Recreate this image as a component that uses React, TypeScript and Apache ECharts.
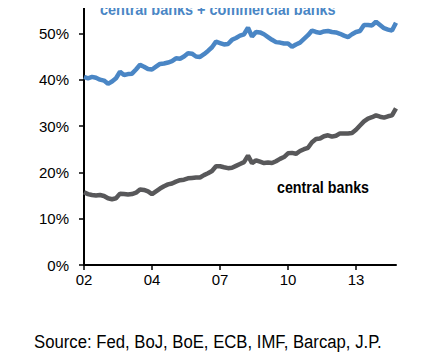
import React, { useEffect, useRef } from "react";
import * as echarts from "echarts";

// Bi-monthly observations, Jan 2002 .. Dec 2014 (79 points)
const startYear = 2002;
const stepMonths = 2;

const centralPlusCommercial = [
  40.6, 40.3, 40.6, 40.4, 40.0, 39.8, 39.1, 39.6, 40.3, 41.7,
  41.0, 41.2, 41.3, 42.2, 43.2, 42.8, 42.3, 42.2, 42.8, 43.4,
  43.5, 43.7, 44.0, 44.6, 44.5, 45.0, 45.7, 45.6, 45.0, 44.9,
  45.5, 46.2, 47.0, 48.2, 47.9, 47.6, 47.7, 48.6, 49.0, 49.5,
  49.8, 51.2, 49.3, 50.3, 50.2, 49.8, 49.2, 48.6, 48.1, 48.0,
  47.8, 47.8, 47.1, 47.6, 48.0, 48.8, 49.6, 50.6, 50.3, 50.1,
  50.4, 50.5, 50.3, 50.2, 49.9, 49.5, 49.2, 49.8, 50.3, 50.5,
  51.8, 51.8, 51.7, 52.5, 51.8, 51.1, 50.8, 50.6, 52.3,
];

const centralBanks = [
  15.7, 15.3, 15.1, 15.0, 15.1, 14.9, 14.4, 14.2, 14.4, 15.4,
  15.3, 15.2, 15.3, 15.6, 16.3, 16.2, 15.9, 15.3, 15.9, 16.5,
  17.0, 17.4, 17.6, 18.0, 18.3, 18.4, 18.7, 18.8, 18.9, 18.9,
  19.4, 19.8, 20.3, 21.3, 21.3, 21.1, 20.9, 21.0, 21.4, 21.8,
  22.2, 23.6, 22.0, 22.6, 22.3, 22.0, 22.1, 22.0, 22.4, 22.9,
  23.3, 24.1, 24.2, 24.0, 24.6, 25.0, 25.3, 26.5, 27.2, 27.3,
  27.8, 28.0, 27.7, 27.9, 28.4, 28.4, 28.4, 28.5, 29.2, 30.1,
  31.0, 31.6, 31.9, 32.3, 32.0, 31.8, 32.1, 32.3, 33.8,
];

const categories: string[] = centralBanks.map((_, i) => {
  const m = i * stepMonths;
  const y = startYear + Math.floor(m / 12);
  const mo = (m % 12) + 1;
  return `${y}-${String(mo).padStart(2, "0")}`;
});

const yTickLabels = ["0%", "10%", "20%", "30%", "40%", "50%", ""];
const seriesNames = ["central banks + commercial banks", "central banks"];
const sourceText = "Source: Fed, BoJ, BoE, ECB, IMF, Barcap, J.P.";

export default function App() {
  const ref = useRef<HTMLDivElement>(null);
  useEffect(() => {
    if (!ref.current) return;
    const chart = echarts.init(ref.current, undefined, { renderer: "svg" });
    const font = "'Liberation Sans', Arial, sans-serif";
    chart.setOption({
      animation: false,
      backgroundColor: "#ffffff",
      grid: {
        left: 84,
        right: 36,
        top: -13,
        bottom: 95,
        containLabel: false,
        outerBoundsMode: "none",
      },
      xAxis: {
        type: "category",
        data: categories,
        boundaryGap: false,
        axisLine: { lineStyle: { color: "#000", width: 2 } },
        axisTick: { show: true, interval: 16, length: 5, lineStyle: { color: "#000", width: 1.5 } },
        axisLabel: {
          interval: 16,
          margin: 7,
          color: "#000",
          fontSize: 15,
          fontFamily: font,
          formatter: (v: string) => v.slice(2, 4),
        },
        splitLine: { show: false },
      },
      yAxis: {
        type: "value",
        min: 0,
        max: 60,
        interval: 10,
        axisLine: { show: true, lineStyle: { color: "#000", width: 2 } },
        axisTick: { show: true, length: 5, lineStyle: { color: "#000", width: 1.5 } },
        axisLabel: {
          margin: 15,
          color: "#000",
          fontSize: 15,
          fontFamily: font,
          formatter: (v: number) => yTickLabels[Math.round(v / 10)] ?? "",
        },
        splitLine: { show: false },
      },
      series: [
        {
          name: seriesNames[0],
          type: "line",
          data: centralPlusCommercial,
          showSymbol: false,
          lineStyle: { color: "#4a86c5", width: 4.5 },
          itemStyle: { color: "#4a86c5" },
        },
        {
          name: seriesNames[1],
          type: "line",
          data: centralBanks,
          showSymbol: false,
          lineStyle: { color: "#58585a", width: 4.5 },
          itemStyle: { color: "#58585a" },
        },
      ],
      graphic: [
        {
          type: "text",
          x: 100,
          y: 1,
          scaleX: 0.85,
          style: {
            text: seriesNames[0],
            fill: "#4a86c5",
            font: `bold 17px ${font}`,
            verticalAlign: "top",
          },
        },
        {
          type: "text",
          x: 277,
          y: 179,
          scaleX: 0.84,
          style: {
            text: seriesNames[1],
            fill: "#000",
            font: `bold 17px ${font}`,
            verticalAlign: "top",
          },
        },
        {
          type: "text",
          x: 34,
          y: 332,
          scaleX: 0.88,
          style: {
            text: sourceText,
            fill: "#000",
            font: `19px ${font}`,
            verticalAlign: "top",
          },
        },
      ],
    });
    return () => chart.dispose();
  }, []);
  return <div ref={ref} style={{ width: 432, height: 360, margin: -8 }} />;
}
